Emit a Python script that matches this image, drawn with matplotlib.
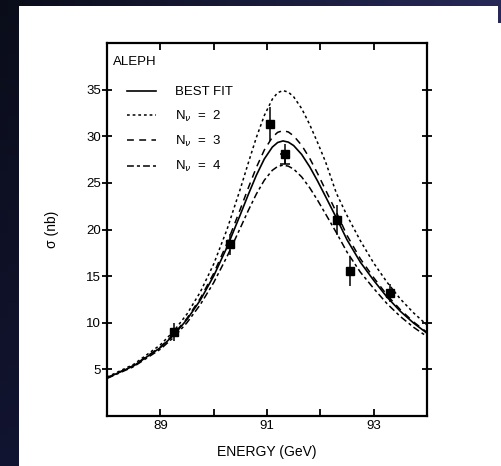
import numpy as np
import matplotlib
matplotlib.use("Agg")
import matplotlib.pyplot as plt
from matplotlib.patches import Rectangle

plt.rcParams["font.family"] = ["Liberation Sans", "DejaVu Sans"]

# curves (sigma in nb)
energy = [88.0, 88.5, 89.0, 89.25, 89.5, 89.75, 90.0, 90.25, 90.5, 90.65,
          90.8, 90.95, 91.1, 91.2, 91.3, 91.4, 91.5, 91.65, 91.8, 91.95,
          92.1, 92.3, 92.5, 92.75, 93.0, 93.25, 93.5, 93.75, 94.0]

best_fit = [4.08, 5.38, 7.33, 8.67, 10.35, 12.43, 15.01, 18.10, 21.60, 23.76,
            25.81, 27.57, 28.84, 29.33, 29.50, 29.37, 29.00, 28.05, 26.73, 25.18,
            23.51, 21.26, 18.90, 16.50, 14.55, 12.75, 11.23, 9.96, 8.88]

nu2 = [4.17, 5.54, 7.63, 9.09, 10.94, 13.30, 16.29, 20.00, 24.36, 27.15,
       29.86, 32.23, 33.98, 34.67, 34.90, 34.73, 34.23, 32.97, 31.26, 29.30,
       27.22, 23.90, 21.50, 18.80, 16.40, 14.35, 12.55, 11.05, 9.75]

nu3 = [4.10, 5.42, 7.40, 8.77, 10.48, 12.62, 15.29, 18.51, 22.19, 24.47,
       26.65, 28.53, 29.89, 30.42, 30.60, 30.46, 30.04, 29.03, 27.64, 25.99,
       24.22, 21.86, 19.37, 16.86, 14.84, 12.97, 11.40, 10.08, 8.97]

nu4 = [4.03, 5.29, 7.16, 8.43, 10.01, 11.95, 14.30, 17.09, 20.17, 22.05,
       23.80, 25.29, 26.35, 26.76, 26.90, 26.79, 26.48, 25.64, 24.48, 23.12,
       21.65, 19.67, 17.58, 15.43, 13.68, 12.05, 10.67, 9.51, 8.52]

# measured points
pt_energy = [89.26, 90.30, 91.05, 91.33, 92.31, 92.55, 93.30]
pt_sigma = [9.0, 18.4, 31.3, 28.1, 21.0, 15.5, 13.2]
pt_err = [1.0, 1.1, 1.8, 1.1, 1.6, 1.6, 1.0]

fig = plt.figure(figsize=(5.02, 4.66), dpi=100)

# dark slide background + white sheet
bg_ax = fig.add_axes([0, 0, 1, 1])
tl = np.array([0.04, 0.05, 0.10])
tr = np.array([0.15, 0.16, 0.34])
bl = np.array([0.07, 0.08, 0.19])
br = np.array([0.10, 0.12, 0.26])
u = np.linspace(0, 1, 60)[None, :, None]
v = np.linspace(0, 1, 60)[:, None, None]
grad = (1 - v) * ((1 - u) * tl + u * tr) + v * ((1 - u) * bl + u * br)
bg_ax.imshow(grad, aspect="auto", extent=[0, 1, 0, 1], origin="upper")
bg_ax.set_axis_off()
fig.patches.append(Rectangle((19 / 502, 0), 1, 1 - 6 / 466, transform=fig.transFigure,
                             facecolor="white", edgecolor="none", zorder=1))
fig.patches.append(Rectangle((498 / 502, 1 - 23 / 466), 1, 1, transform=fig.transFigure,
                             facecolor=tr, edgecolor="none", zorder=2))

ax = fig.add_axes([107 / 502, 1 - 416 / 466, 320 / 502, 373 / 466])
ax.set_zorder(3)
ax.patch.set_alpha(0)

ax.plot(energy, best_fit, color="black", lw=1.2, label="BEST FIT")
ax.plot(energy, nu2, color="black", lw=1.1, dashes=(1.8, 1.9), label=r"N$_\nu$  =  2")
ax.plot(energy, nu3, color="black", lw=1.1, dashes=(4.5, 3.5), label=r"N$_\nu$  =  3")
ax.plot(energy, nu4, color="black", lw=1.1, dashes=(4.5, 2.0, 2.0, 2.0), label=r"N$_\nu$  =  4")

ax.errorbar(pt_energy, pt_sigma, yerr=pt_err, fmt="s", color="black",
            ms=5.5, elinewidth=1.1, capsize=0)
# the point at the peak has a cap on its lower bar
ax.errorbar(pt_energy[3], pt_sigma[3], yerr=[[pt_err[3]], [0]], fmt="none",
            ecolor="black", elinewidth=1.1, capsize=3.5, capthick=1.1)

ax.set_xlim(88, 94)
ax.set_ylim(0, 40)
ax.set_xticks([89, 90, 91, 92, 93])
ax.set_xticklabels(["89", "", "91", "", "93"])
ax.set_yticks([5, 10, 15, 20, 25, 30, 35])
ax.tick_params(axis="x", direction="in", top=True, length=5, width=1.3,
               labelsize=9.5, pad=3)
ax.tick_params(axis="y", direction="inout", right=True, length=7, width=1.3,
               labelsize=9.5, pad=1)
for sp in ax.spines.values():
    sp.set_linewidth(1.6)

ax.set_xlabel("ENERGY (GeV)", fontsize=10, labelpad=9)
ax.set_ylabel("σ (nb)", fontsize=10, labelpad=19)

ax.text(0.02, 0.965, "ALEPH", transform=ax.transAxes, fontsize=9.5,
        ha="left", va="top")

ax.legend(loc="upper left", bbox_to_anchor=(0.0625, 0.885), frameon=False,
          fontsize=9.5, handlelength=2.2, handletextpad=1.45,
          labelspacing=0.78, borderpad=0, borderaxespad=0)

fig.savefig("out.png", dpi=100)
